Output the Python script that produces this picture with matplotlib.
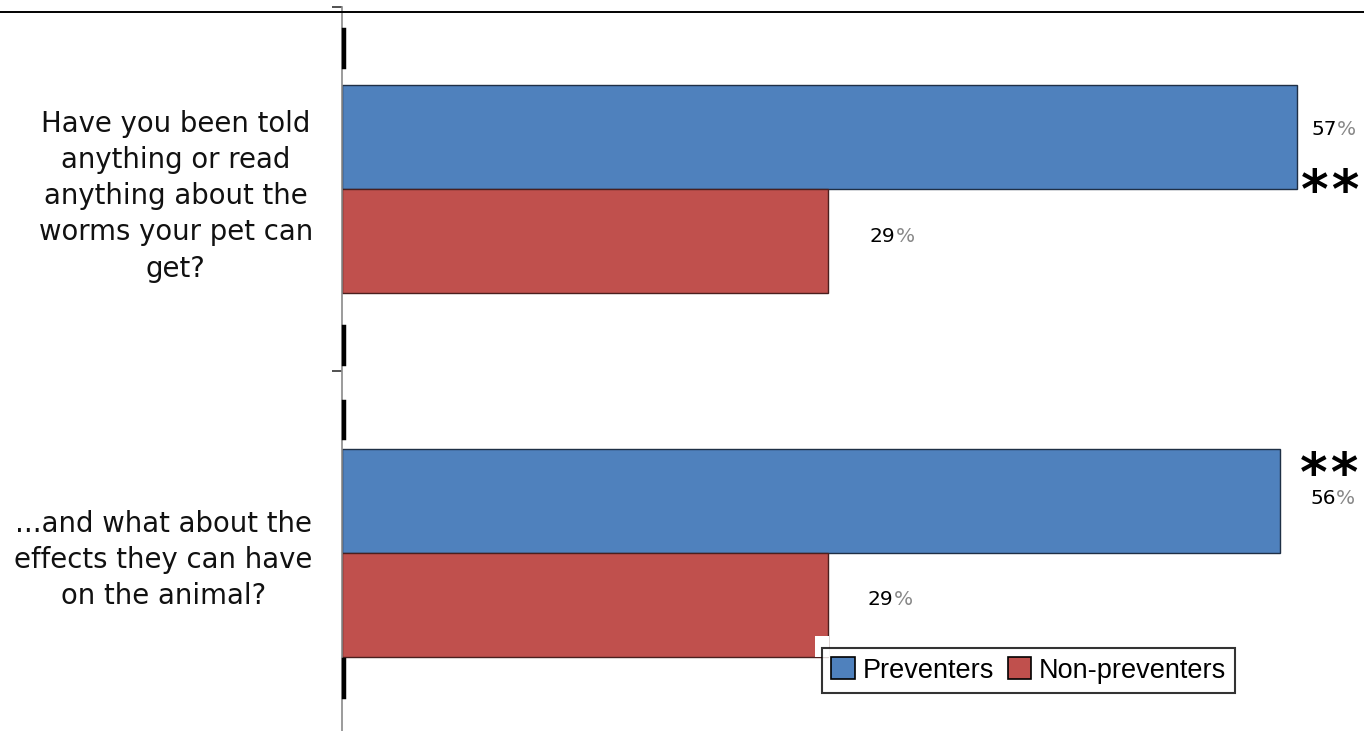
import matplotlib
matplotlib.use("Agg")
import matplotlib.pyplot as plt
from matplotlib.patches import Patch, Rectangle
from matplotlib.lines import Line2D

categories = ["Have you been told\nanything or read\nanything about the\nworms your pet can\nget?",
              "...and what about the\neffects they can have\non the animal?"]
series_names = ["Preventers", "Non-preventers"]
preventers = [57, 56]
non_preventers = [29, 29]
significance = ["**", "**"]

colors = ["#4F81BD", "#C0504D"]
edges = ["#1f2f45", "#4a1f1e"]

W, H = 1364, 731
fig = plt.figure(figsize=(W / 100, H / 100), dpi=100)
ax = fig.add_axes([342 / W, -4 / H, 1022 / W, 728 / H])

h = 0.285
ypos = list(range(len(categories)))
yb = [y - h / 2 for y in ypos]
yr = [y + h / 2 for y in ypos]
ax.barh(yb, preventers, height=h, color=colors[0], edgecolor=edges[0], linewidth=1)
ax.barh(yr, non_preventers, height=h, color=colors[1], edgecolor=edges[1], linewidth=1)

ax.set_xlim(0, 1022 / 16.75)
ax.set_ylim(1.5, -0.5)
ax.set_xticks([])
for s in ["top", "right", "bottom"]:
    ax.spines[s].set_visible(False)
ax.spines["left"].set_color("#8a8a8a")
ax.spines["left"].set_linewidth(1.2)

# category boundary ticks
ax.set_yticks([-0.5, 0.5])
ax.set_yticklabels([])
ax.tick_params(axis="y", which="major", length=7.5, width=1.2, color="#333333", direction="out")
ax.set_yticks(ypos, minor=True)
ax.set_yticklabels(categories, minor=True)
ax.tick_params(axis="y", which="minor", length=0, pad=21)
for lab in ax.get_yticklabels(minor=True):
    lab.set_multialignment("center")
    lab.set_fontsize(19.8)
    lab.set_linespacing(1.375)
    lab.set_family("DejaVu Sans")
    lab.set_color("#111111")

# thick axis stubs (decoration)
for (p0, p1) in [(30, 67), (327, 364), (402, 438), (660, 697)]:
    fig.add_artist(Line2D([344 / W, 344 / W], [1 - p0 / H, 1 - p1 / H], color="black", lw=3.2))

# top rule
fig.add_artist(Line2D([0, 1], [1 - 12 / H, 1 - 12 / H], color="black", lw=1.4))

# value labels
label_offsets = [(15, 8), (42, 4), (30, 3), (40, 5)]
vals = [(preventers[0], yb[0]), (non_preventers[0], yr[0]), (preventers[1], yb[1]), (non_preventers[1], yr[1])]
for (v, y), (dx, dy) in zip(vals, label_offsets):
    t = ax.annotate(f"{v}", xy=(v, y), xytext=(dx * 0.72, dy * 0.72), textcoords="offset points",
                    ha="left", va="center", fontsize=14.5, color="black", family="DejaVu Sans")
    ax.annotate("%", xy=(1, 0), xycoords=t, ha="left", va="bottom", fontsize=14.5,
                color="#888888", family="DejaVu Sans")

# significance stars
star_offsets = [(2, -56), (18, 25)]
for i, (s, (dx, dy)) in enumerate(zip(significance, star_offsets)):
    ax.annotate(s, xy=(preventers[i], ypos[i] - h / 2), xytext=(dx * 0.72, dy * 0.72),
                textcoords="offset points", ha="left", va="center", fontsize=38,
                fontweight="bold", color="black", family="DejaVu Sans Mono")

handles = [Patch(facecolor=colors[0], edgecolor="black", lw=1.2),
           Patch(facecolor=colors[1], edgecolor="black", lw=1.2)]
leg = fig.legend(handles, series_names, loc="upper left", bbox_to_anchor=(822 / W, 1 - 648 / H),
                 ncol=2, frameon=True, fancybox=False, edgecolor="black",
                 handlelength=0.85, handleheight=0.85, handletextpad=0.3, columnspacing=0.5,
                 borderpad=0.35, borderaxespad=0, prop={"family": "Liberation Sans", "size": 19.5})
leg.get_frame().set_linewidth(1.5)

# white margin behind legend cutting the bar corner
fig.add_artist(Rectangle((815 / W, 1 - 657 / H), 14 / W, 21 / H, transform=fig.transFigure,
                         facecolor="white", edgecolor="none", zorder=5))

fig.savefig("out.png", dpi=100)
